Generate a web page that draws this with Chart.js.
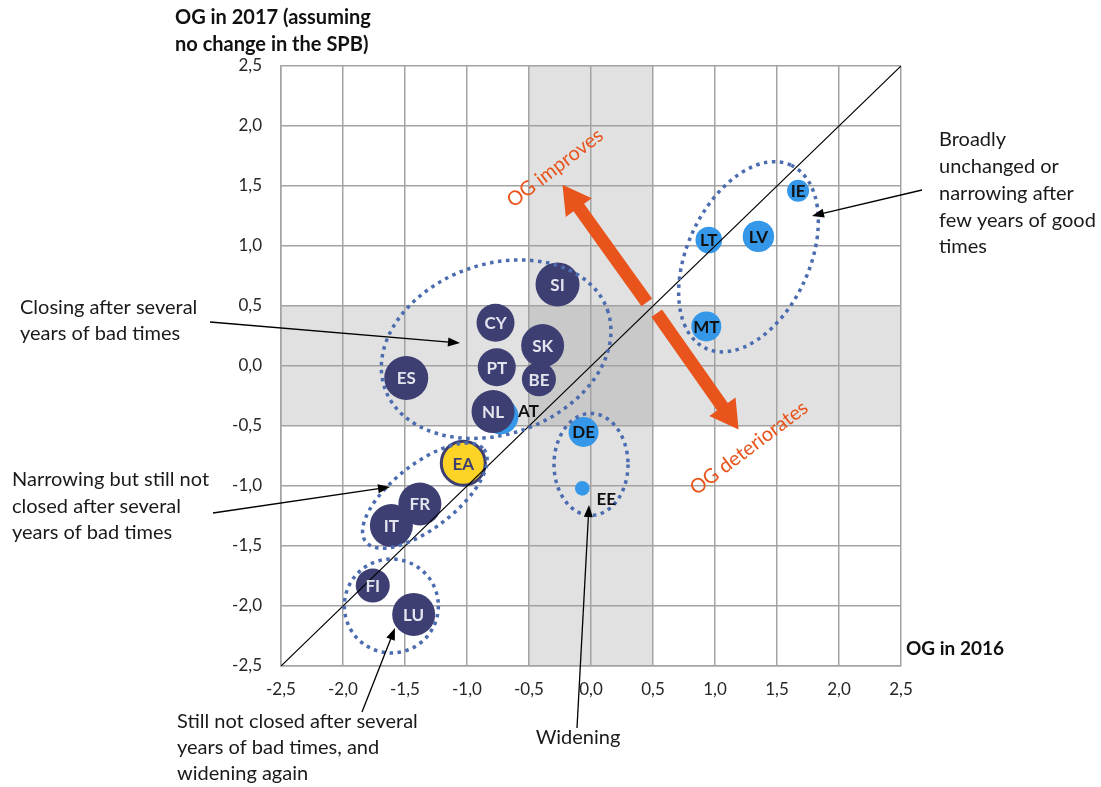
<!DOCTYPE html>
<html>
<head>
<meta charset="utf-8">
<script src="https://cdn.jsdelivr.net/npm/chart.js@4.4.1/dist/chart.umd.min.js"></script>
<style>
html,body{margin:0;padding:0;background:#fff;}
#wrap{width:1101px;height:787px;position:relative;}
</style>
</head>
<body>
<div id="wrap"><canvas id="c" width="1101" height="787"></canvas></div>
<script>
// ---- data ----
const countries = ['AT','SI','CY','SK','PT','BE','ES','NL','DE','EA','FR','IT','FI','LU','EE','IE','LT','LV','MT'];
const og2016   = [-0.73,-0.27,-0.77,-0.39,-0.76,-0.42,-1.49,-0.79,-0.06,-1.03,-1.38,-1.61,-1.76,-1.43,-0.07,1.67,0.95,1.35,0.93];
const og2017   = [-0.42,0.68,0.36,0.17,-0.01,-0.11,-0.10,-0.38,-0.55,-0.81,-1.15,-1.33,-1.83,-2.07,-1.02,1.46,1.05,1.08,0.33];
const bubbleSize = [18,22,19,21.5,19,17,22,21.5,15,22,21.5,21.5,17,21.5,7.3,11,13.3,15.7,15];
const groups   = ['light','dark','dark','dark','dark','dark','dark','dark','light','ea','dark','dark','dark','dark','light','light','light','light','light'];
const tickValues = [-2.5,-2.0,-1.5,-1.0,-0.5,0.0,0.5,1.0,1.5,2.0,2.5];
const tickLabels = ['-2,5','-2,0','-1,5','-1,0','-0,5','0,0','0,5','1,0','1,5','2,0','2,5'];
const diagonal = [{x:-2.5,y:-2.5},{x:2.5,y:2.5}];

// ---- styles ----
const FONT = 'Lato, "Open Sans", sans-serif';
const fillOf = {dark:'#3d3f73', light:'#3597e8', ea:'#fdd425'};
const labelColorOf = {dark:'#e4e4ee', light:'#111111', ea:'#3d3f73'};
const labelOffset = {AT:[28,-6], EE:[24,10]};
const labelOutside = {AT:true, EE:true};

const points = countries.map((c,i)=>({x:og2016[i], y:og2017[i], r:bubbleSize[i]}));

const bandsPlugin = {
  id:'bands',
  beforeDraw(chart){
    const {ctx, chartArea:a, scales:{x,y}} = chart;
    ctx.save();
    ctx.fillStyle = '#fff';
    ctx.fillRect(0,0,chart.width,chart.height);
    const x0 = x.getPixelForValue(-0.5), x1 = x.getPixelForValue(0.5);
    const y0 = y.getPixelForValue(0.5), y1 = y.getPixelForValue(-0.5);
    ctx.fillStyle = '#e1e1e1';
    ctx.fillRect(x0, a.top, x1-x0, a.bottom-a.top);
    ctx.fillRect(a.left, y0, a.right-a.left, y1-y0);
    ctx.fillStyle = '#c9c9c9';
    ctx.fillRect(x0, y0, x1-x0, y1-y0);
    ctx.restore();
  }
};

function arrowHead(ctx, x0,y0,x1,y1,len,w){
  const ang = Math.atan2(y1-y0,x1-x0);
  ctx.beginPath();
  ctx.moveTo(x1,y1);
  ctx.lineTo(x1-len*Math.cos(ang)+w/2*Math.sin(ang), y1-len*Math.sin(ang)-w/2*Math.cos(ang));
  ctx.lineTo(x1-len*Math.cos(ang)-w/2*Math.sin(ang), y1-len*Math.sin(ang)+w/2*Math.cos(ang));
  ctx.closePath();
  ctx.fill();
}
function thinArrow(ctx,x0,y0,x1,y1){
  ctx.save();
  ctx.strokeStyle='#000'; ctx.fillStyle='#000'; ctx.lineWidth=1.3;
  const ang=Math.atan2(y1-y0,x1-x0);
  ctx.beginPath(); ctx.moveTo(x0,y0); ctx.lineTo(x1-8*Math.cos(ang), y1-8*Math.sin(ang)); ctx.stroke();
  arrowHead(ctx,x0,y0,x1,y1,12,9);
  ctx.restore();
}
function fatArrow(ctx,x0,y0,x1,y1){
  const ang=Math.atan2(y1-y0,x1-x0), L=Math.hypot(x1-x0,y1-y0);
  const sw=13, hw=32, hl=28;
  ctx.save();
  ctx.translate(x0,y0); ctx.rotate(ang);
  ctx.fillStyle='#e8541b';
  ctx.beginPath();
  ctx.moveTo(0,-sw/2); ctx.lineTo(L-hl,-sw/2); ctx.lineTo(L-hl,-hw/2); ctx.lineTo(L,0);
  ctx.lineTo(L-hl,hw/2); ctx.lineTo(L-hl,sw/2); ctx.lineTo(0,sw/2); ctx.closePath();
  ctx.fill();
  ctx.restore();
}
function dottedEllipse(ctx,cx,cy,a,b,rotDeg){
  ctx.save();
  ctx.strokeStyle='#4b6caf'; ctx.lineWidth=3.5; ctx.setLineDash([3.5,4.5]);
  ctx.beginPath();
  ctx.ellipse(cx,cy,a,b,-rotDeg*Math.PI/180,0,Math.PI*2);
  ctx.stroke();
  ctx.restore();
}
function textLines(ctx,lines,x,y,lh,align){
  ctx.textAlign=align||'left'; ctx.textBaseline='middle';
  lines.forEach((t,i)=>ctx.fillText(t,x,y+i*lh));
}

const annotPlugin = {
  id:'annot',
  afterDatasetsDraw(chart){
    const {ctx, scales:{x,y}} = chart;
    const px=v=>x.getPixelForValue(v), py=v=>y.getPixelForValue(v);
    // ellipses (centres in data units)
    dottedEllipse(ctx, px(-0.765), py(0.14), 118, 85, 19.4);
    dottedEllipse(ctx, px(-1.34), py(-1.08), 75, 32, 38);
    dottedEllipse(ctx, px(-1.61), py(-2.0), 47, 47, 0);
    dottedEllipse(ctx, px(0.0), py(-0.82), 37, 51, 0);
    dottedEllipse(ctx, px(1.27), py(0.91), 101, 61, 65);
    // orange arrows
    fatArrow(ctx, px(0.45), py(0.53), px(-0.23), py(1.51));
    fatArrow(ctx, px(0.53), py(0.44), px(1.19), py(-0.53));
    // country labels
    const meta = chart.getDatasetMeta(0);
    ctx.save();
    ctx.font = 'bold 17px '+FONT;
    ctx.textAlign='center'; ctx.textBaseline='middle';
    meta.data.forEach((el,i)=>{
      const c=countries[i];
      const off=labelOffset[c]||[0,0];
      ctx.fillStyle = labelOutside[c] ? '#111' : labelColorOf[groups[i]];
      ctx.fillText(c, el.x+off[0], el.y+off[1]+1);
    });
    ctx.restore();
  },
  afterDraw(chart){
    const {ctx} = chart;
    ctx.save();
    // orange labels
    ctx.fillStyle='#e8541b'; ctx.font='20px '+FONT;
    ctx.textAlign='center'; ctx.textBaseline='middle';
    ctx.save(); ctx.translate(555,168); ctx.rotate(-37.5*Math.PI/180); ctx.fillText('OG improves',0,0); ctx.restore();
    ctx.save(); ctx.translate(749,448); ctx.rotate(-37*Math.PI/180); ctx.fillText('OG deteriorates',0,0); ctx.restore();
    // axis titles
    ctx.fillStyle='#111'; ctx.font='bold 20px '+FONT;
    textLines(ctx,['OG in 2017 (assuming','no change in the SPB)'],175,18,27,'left');
    ctx.font='bold 19px '+FONT;
    textLines(ctx,['OG in 2016'],906,649,20,'left');
    // annotations
    ctx.font='20px '+FONT; ctx.fillStyle='#1a1a1a';
    textLines(ctx,['Closing after several','years of bad times'],20,308,25.5,'left');
    textLines(ctx,['Narrowing but still not','closed after several','years of bad times'],12,480,26.5,'left');
    textLines(ctx,['Still not closed after several','years of bad times, and','widening again'],177,722,25.7,'left');
    textLines(ctx,['Widening'],578,738,26,'center');
    textLines(ctx,['Broadly','unchanged or','narrowing after','few years of good','times'],939,140,26.7,'left');
    ctx.restore();
    thinArrow(ctx,210,322,460,343);
    thinArrow(ctx,213,513,390,487);
    thinArrow(ctx,362,712,395,628);
    thinArrow(ctx,577,728,589,505);
    thinArrow(ctx,922,190,812,216);
  }
};

const fmt = v => { const i = tickValues.findIndex(t=>Math.abs(t-v)<1e-9); return i>=0 ? tickLabels[i] : ''; };
const gridColor = '#a3a3a3';

new Chart(document.getElementById('c'), {
  type:'bubble',
  data:{
    datasets:[
      {
        type:'bubble',
        data: points,
        backgroundColor: groups.map(g=>fillOf[g]),
        borderColor: groups.map(g=>g==='ea' ? '#3d3f73' : fillOf[g]),
        borderWidth: groups.map(g=>g==='ea' ? 3 : 0),
        hoverRadius:0,
        order:2
      },
      {
        type:'line',
        data: diagonal,
        borderColor:'#000',
        borderWidth:1.2,
        pointRadius:0,
        fill:false,
        order:1
      }
    ]
  },
  options:{
    responsive:false,
    animation:false,
    events:[],
    layout:{padding:{left:221, top:66, right:200, bottom:0}},
    plugins:{legend:{display:false}, tooltip:{enabled:false}},
    scales:{
      x:{
        type:'linear', min:-2.5, max:2.5,
        afterFit(s){ s.height = 121; },
        grid:{color:gridColor, lineWidth:1.5, drawTicks:false},
        border:{display:true, color:gridColor, width:1.5},
        ticks:{stepSize:0.5, padding:13, color:'#262626', font:{family:FONT, size:17}, callback:fmt, maxRotation:0, autoSkip:false}
      },
      y:{
        type:'linear', min:-2.5, max:2.5,
        afterFit(s){ s.width = 60; },
        grid:{color:gridColor, lineWidth:1.5, drawTicks:false},
        border:{display:true, color:gridColor, width:1.5},
        ticks:{stepSize:0.5, padding:19, color:'#262626', font:{family:FONT, size:17}, callback:fmt, autoSkip:false}
      }
    }
  },
  plugins:[bandsPlugin, annotPlugin]
});
</script>
</body>
</html>
